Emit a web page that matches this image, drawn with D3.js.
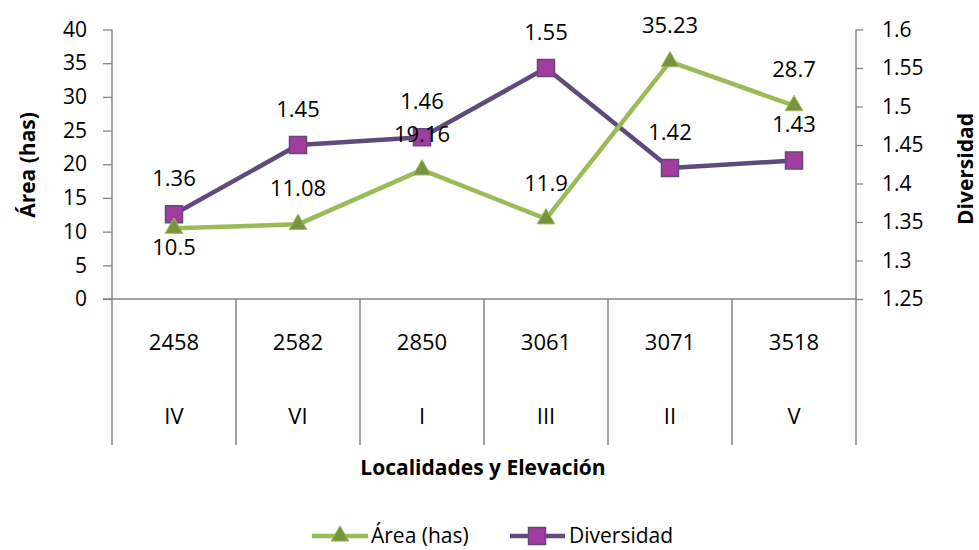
<!DOCTYPE html>
<html>
<head>
<meta charset="utf-8">
<script src="https://cdn.jsdelivr.net/npm/d3@7"></script>
<style>
  html, body { margin: 0; padding: 0; background: #fff; }
  svg { display: block; font-family: "Open Sans", "Noto Sans", sans-serif; }
</style>
</head>
<body>
<svg id="chart" width="979" height="550"></svg>
<script>
// Categories: elevation (first row) and locality (second row)
const elevations = ["2458", "2582", "2850", "3061", "3071", "3518"];
const localidades = ["IV", "VI", "I", "III", "II", "V"];

// Series values
const area = [10.5, 11.08, 19.16, 11.9, 35.23, 28.7];
const diversidad = [1.36, 1.45, 1.46, 1.55, 1.42, 1.43];

// Axis ticks
const areaTicks = [0, 5, 10, 15, 20, 25, 30, 35, 40];
const divTicks = [1.25, 1.3, 1.35, 1.4, 1.45, 1.5, 1.55, 1.6];

// Label placement for the area series
const areaLabelPos = ["below", "above", "above", "above", "above", "above"];

const svg = d3.select("#chart");
const plotLeft = 112, plotRight = 856, plotTop = 29.5, plotBottom = 299, catBottom = 445;
const axisColor = "#868686";
const green = "#9BBB59", greenDark = "#77933C";
const purple = "#604A7B", magenta = "#A23C9F";

const x = d3.scaleBand().domain(elevations).range([plotLeft, plotRight]).padding(0);
const cx = (i) => x(elevations[i]) + x.bandwidth() / 2;
const yL = d3.scaleLinear().domain([0, 40]).range([plotBottom, plotTop]);
const yR = d3.scaleLinear().domain([1.25, 1.6]).range([plotBottom, plotTop]);

// Left axis
const gL = svg.append("g").attr("transform", `translate(${plotLeft},0)`)
  .call(d3.axisLeft(yL).tickValues(areaTicks).tickSize(9).tickPadding(16).tickFormat(d3.format("d")));
gL.select(".domain").remove();
gL.selectAll(".tick line").attr("stroke", axisColor).attr("stroke-width", 1.3);
gL.selectAll(".tick text").attr("font-size", 21).attr("fill", "#000")
  .attr("font-family", "Open Sans, sans-serif");

// Right axis
const gR = svg.append("g").attr("transform", `translate(${plotRight},0)`)
  .call(d3.axisRight(yR).tickValues(divTicks).tickSize(7).tickPadding(19).tickFormat(d => String(+d.toFixed(2))));
gR.select(".domain").remove();
gR.selectAll(".tick line").attr("stroke", axisColor).attr("stroke-width", 1.3);
gR.selectAll(".tick text").attr("font-size", 21).attr("fill", "#000")
  .attr("font-family", "Open Sans, sans-serif");

// Axis lines and category grid
const lines = svg.append("g").attr("stroke", axisColor).attr("stroke-width", 1.5);
lines.append("line").attr("x1", plotLeft).attr("x2", plotLeft).attr("y1", plotTop).attr("y2", catBottom);
lines.append("line").attr("x1", plotRight).attr("x2", plotRight).attr("y1", plotTop).attr("y2", catBottom);
lines.append("line").attr("x1", plotLeft - 9).attr("x2", plotRight).attr("y1", plotBottom).attr("y2", plotBottom);
lines.selectAll("line.sep").data(elevations.slice(1)).enter().append("line")
  .attr("class", "sep")
  .attr("x1", d => x(d)).attr("x2", d => x(d))
  .attr("y1", plotBottom).attr("y2", catBottom);

// Category labels
svg.append("g").selectAll("text").data(elevations).enter().append("text")
  .attr("x", (d, i) => cx(i)).attr("y", 342).attr("dy", "0.35em")
  .attr("text-anchor", "middle").attr("font-size", 22).text(d => d);
svg.append("g").selectAll("text").data(localidades).enter().append("text")
  .attr("x", (d, i) => cx(i)).attr("y", 416).attr("dy", "0.35em")
  .attr("text-anchor", "middle").attr("font-size", 22).text(d => d);

// Axis titles
svg.append("text").attr("x", 483).attr("y", 468).attr("dy", "0.35em")
  .attr("text-anchor", "middle").attr("font-size", 21).attr("font-weight", "bold")
  .text("Localidades y Elevación");
svg.append("text").attr("transform", "translate(28,165) rotate(-90)").attr("dy", "0.35em")
  .attr("text-anchor", "middle").attr("font-size", 21).attr("font-weight", "bold")
  .text("Área (has)");
svg.append("text").attr("transform", "translate(966,169) rotate(-90)").attr("dy", "0.35em")
  .attr("text-anchor", "middle").attr("font-size", 21).attr("font-weight", "bold")
  .text("Diversidad");

// Diversidad series
const lineDiv = d3.line().x((d, i) => cx(i)).y(d => yR(d));
svg.append("path").datum(diversidad).attr("d", lineDiv)
  .attr("fill", "none").attr("stroke", purple).attr("stroke-width", 4.5)
  .attr("stroke-linejoin", "round");
const square = d3.symbol().type(d3.symbolSquare).size(17 * 17);
svg.append("g").selectAll("path").data(diversidad).enter().append("path")
  .attr("d", square)
  .attr("transform", (d, i) => `translate(${cx(i)},${yR(d)})`)
  .attr("fill", magenta).attr("stroke", purple).attr("stroke-width", 1.5);

// Área series
const lineArea = d3.line().x((d, i) => cx(i)).y(d => yL(d));
svg.append("path").datum(area).attr("d", lineArea)
  .attr("fill", "none").attr("stroke", green).attr("stroke-width", 4.5)
  .attr("stroke-linejoin", "round");
const tri = d3.symbol().type(d3.symbolTriangle).size(135);
svg.append("g").selectAll("path").data(area).enter().append("path")
  .attr("d", tri)
  .attr("transform", (d, i) => `translate(${cx(i)},${yL(d)})`)
  .attr("fill", greenDark).attr("stroke", green).attr("stroke-width", 1);

// Data labels
svg.append("g").selectAll("text").data(diversidad).enter().append("text")
  .attr("x", (d, i) => cx(i)).attr("y", d => yR(d) - 36).attr("dy", "0.35em")
  .attr("text-anchor", "middle").attr("font-size", 22).text(d => d);
svg.append("g").selectAll("text").data(area).enter().append("text")
  .attr("x", (d, i) => cx(i))
  .attr("y", (d, i) => yL(d) + (areaLabelPos[i] === "below" ? 19 : -36)).attr("dy", "0.35em")
  .attr("text-anchor", "middle").attr("font-size", 22).text(d => d);

// Legend
const lg = svg.append("g").attr("transform", "translate(0,536)");
lg.append("line").attr("x1", 312).attr("x2", 368).attr("stroke", green).attr("stroke-width", 4.5);
lg.append("path").attr("d", tri).attr("transform", "translate(340,0)")
  .attr("fill", greenDark).attr("stroke", green).attr("stroke-width", 1);
lg.append("text").attr("x", 371).attr("dy", "0.35em").attr("font-size", 21).text("Área (has)");
lg.append("line").attr("x1", 510).attr("x2", 565).attr("stroke", purple).attr("stroke-width", 4.5);
lg.append("path").attr("d", square).attr("transform", "translate(537,0)")
  .attr("fill", magenta).attr("stroke", purple).attr("stroke-width", 1.5);
lg.append("text").attr("x", 569).attr("dy", "0.35em").attr("font-size", 21).text("Diversidad");
</script>
</body>
</html>
